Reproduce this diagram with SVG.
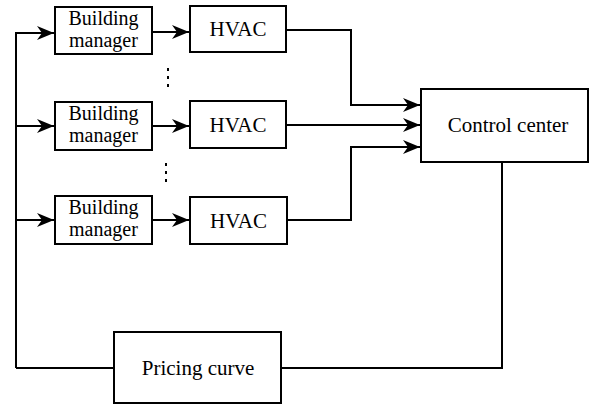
<svg xmlns="http://www.w3.org/2000/svg" width="600" height="409" viewBox="0 0 600 409">
<style>
.box{fill:#fff;stroke:#000;stroke-width:2}
.ln{fill:none;stroke:#000;stroke-width:2}
.t{font-family:"Liberation Serif","Times New Roman",serif;font-size:21px;fill:#000;text-anchor:middle}
.s{font-size:20px}
.dot{fill:none;stroke:#000;stroke-width:2;stroke-dasharray:3,5}
</style>
<defs>
<marker id="ah" markerWidth="17" markerHeight="14" refX="17" refY="7" orient="auto" markerUnits="userSpaceOnUse">
<path d="M0,0 L17,7 L0,14 L5,7 Z" fill="#000"/>
</marker>
</defs>
<rect width="600" height="409" fill="#fff"/>
<g id="connectors">
<path class="ln" d="M16,368 V33 H54" marker-end="url(#ah)"/>
<path class="ln" d="M16,126 H54" marker-end="url(#ah)"/>
<path class="ln" d="M16,220 H54" marker-end="url(#ah)"/>
<path class="ln" d="M152,32 H189" marker-end="url(#ah)"/>
<path class="ln" d="M152,126 H189" marker-end="url(#ah)"/>
<path class="ln" d="M152,220 H189" marker-end="url(#ah)"/>
<path class="ln" d="M286,30 H351 V105 H420" marker-end="url(#ah)"/>
<path class="ln" d="M286,125 H420" marker-end="url(#ah)"/>
<path class="ln" d="M286,220 H351 V147 H420" marker-end="url(#ah)"/>
<path class="ln" d="M502,162 V368 H281"/>
<path class="ln" d="M114,368 H16"/>
<path class="dot" d="M168,68 V90"/>
<path class="dot" d="M166,163 V185"/>
</g>
<g id="bm1"><rect class="box" x="55" y="7" width="97" height="47"/><text class="t s" x="103.5" y="25">Building</text><text class="t s" x="103.5" y="47">manager</text></g>
<g id="hvac1"><rect class="box" x="190" y="6" width="96" height="46"/><text class="t" x="238" y="36">HVAC</text></g>
<g id="bm2"><rect class="box" x="55" y="102" width="97" height="48"/><text class="t s" x="103.5" y="120">Building</text><text class="t s" x="103.5" y="142">manager</text></g>
<g id="hvac2"><rect class="box" x="190" y="101" width="96" height="47"/><text class="t" x="238" y="132">HVAC</text></g>
<g id="bm3"><rect class="box" x="55" y="196" width="97" height="48"/><text class="t s" x="103.5" y="214">Building</text><text class="t s" x="103.5" y="236">manager</text></g>
<g id="hvac3"><rect class="box" x="190" y="197" width="97" height="47"/><text class="t" x="238.5" y="228">HVAC</text></g>
<g id="control"><rect class="box" x="421" y="89" width="167" height="73"/><text class="t" x="508" y="132">Control center</text></g>
<g id="pricing"><rect class="box" x="114" y="332" width="167" height="71"/><text class="t" x="198" y="375">Pricing curve</text></g>
</svg>
